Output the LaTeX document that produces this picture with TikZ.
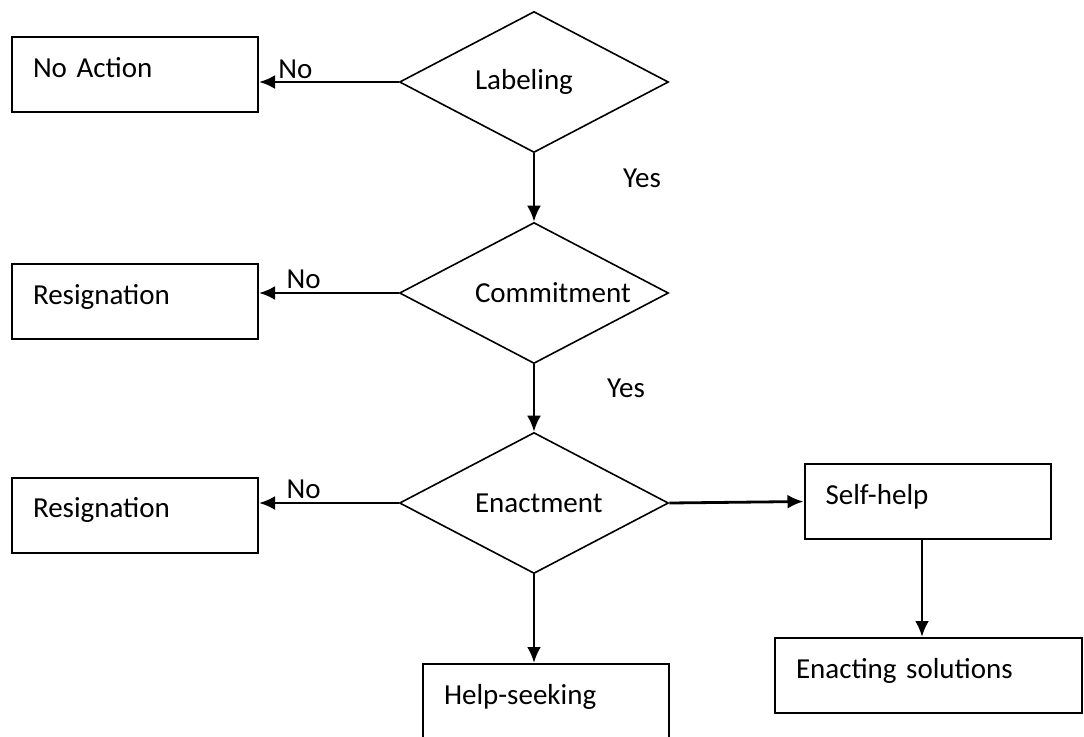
\documentclass[tikz,border=0pt]{standalone}
\usepackage{fontspec}
\setmainfont{Carlito}
\usetikzlibrary{shapes.geometric,arrows.meta,calc}

\begin{document}
\begin{tikzpicture}[x=0.5pt,y=-0.5pt,font=\fontsize{14.5pt}{17pt}\selectfont,
	decision/.style={draw,line width=0.8pt,diamond,aspect=1.9,minimum width=134.5pt,minimum height=70.5pt,inner sep=0pt,text width=59pt,align=left},
	outcome/.style={draw,line width=1pt,rectangle,inner xsep=10.5pt,inner ysep=0pt,text width=102pt,align=left,text height=20pt,text depth=17.5pt},
	flow/.style={line width=1.4pt,-{Latex[length=8pt,width=7pt]}}]
			\useasboundingbox (0,0) rectangle (1084,736);
			\node[decision] (lab) at (534,82) {Labeling};
			\node[decision] (com) at (534,293) {Commitment};
			\node[decision] (ena) at (534,503) {Enactment};
			%
			\node[outcome] (noact) at (135,74.5) {No Action};
			\node[outcome] (res1) at (135,301.5) {Resignation};
			\node[outcome] (res2) at (135,515) {Resignation};
			\node[outcome] (self) at (927.5,501.5) {Self-help};
			\node[outcome] (help) at (546,701.5) {Help-seeking};
			\node[outcome,text width=132.5pt] (sol) at (928.5,675.5) {Enacting solutions};
			%
			\draw[flow] (lab.west) -- (lab.west -| noact.east) node[pos=0.74,above,inner sep=1pt] (no1) {No};
			\draw[flow] (com.west) -- (com.west -| res1.east) node[pos=0.68,above,inner sep=1.5pt] (no2) {No};
			\draw[flow] (ena.west) -- (ena.west -| res2.east) node[pos=0.68,above,inner sep=1.5pt] (no3) {No};
			\draw[flow] (lab.south) -- (com.north) node[pos=0.36,right=40.5pt] (yes1) {Yes};
			\draw[flow] (com.south) -- (ena.north) node[pos=0.36,right=32.5pt] (yes2) {Yes};
			\draw[flow] (ena.east) -- (self.west);
			\draw[flow] (ena.south) -- (ena.south |- help.north);
			\draw[flow] ([xshift=-2.75pt]self.south) -- ([xshift=-2.75pt]self.south |- sol.north);
		\end{tikzpicture}
\end{document}
